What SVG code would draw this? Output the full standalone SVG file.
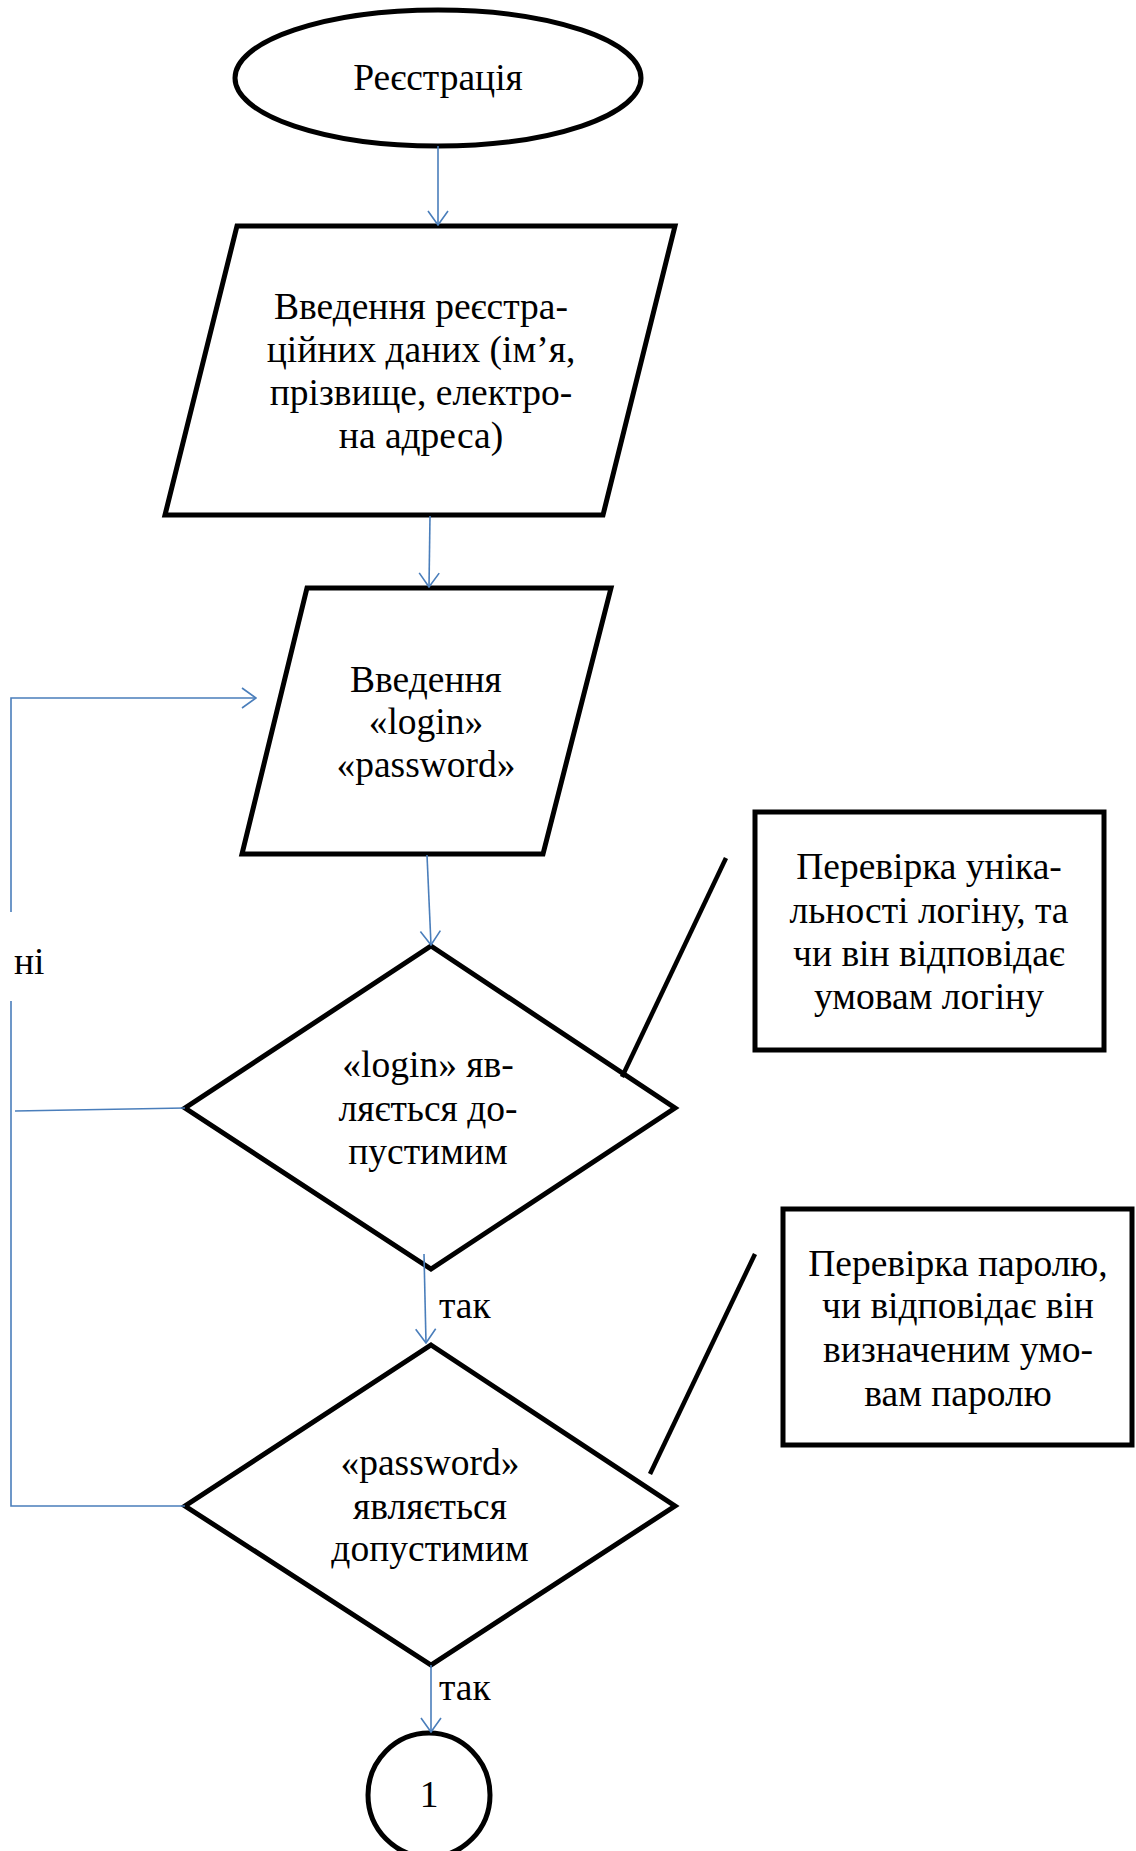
<svg xmlns="http://www.w3.org/2000/svg" width="1136" height="1851" viewBox="0 0 1136 1851">
<style>
.shape{fill:#fff;stroke:#000;stroke-width:5;stroke-linejoin:miter}
.conn{fill:none;stroke:#4A7EBB;stroke-width:1.6}
.call{fill:none;stroke:#000;stroke-width:4.5}
text{font-family:"Liberation Serif","Times New Roman",serif;font-size:37.5px;fill:#000}
.c{text-anchor:middle}
</style>
<defs>
<marker id="arr" viewBox="0 0 16 22" refX="15" refY="11" markerWidth="16" markerHeight="22" orient="auto" markerUnits="userSpaceOnUse">
<path d="M1,1 L15,11 L1,21" fill="none" stroke="#4A7EBB" stroke-width="1.6"/>
</marker>
</defs>
<rect width="1136" height="1851" fill="#fff"/>

<g id="start">
<ellipse class="shape" cx="438" cy="78" rx="203" ry="68"/>
<text class="c" x="438" y="90">Реєстрація</text>
</g>

<g id="input-reg">
<polygon class="shape" points="237,226 675,226 603,515 165,515"/>
<text class="c" x="421" y="319">Введення реєстра-</text>
<text class="c" x="421" y="362">ційних даних (ім’я,</text>
<text class="c" x="421" y="405">прізвище, електро-</text>
<text class="c" x="421" y="448">на адреса)</text>
</g>

<g id="input-login">
<polygon class="shape" points="307,588 611,588 543,854 242,854"/>
<text class="c" x="426" y="692">Введення</text>
<text class="c" x="426" y="734">«login»</text>
<text class="c" x="426" y="777">«password»</text>
</g>

<g id="check-login">
<polygon class="shape" points="431,946 675,1108 431,1269 185,1108"/>
<text class="c" x="428" y="1077">«login» яв-</text>
<text class="c" x="428" y="1121">ляється до-</text>
<text class="c" x="428" y="1164">пустимим</text>
</g>

<g id="note-login">
<line class="call" x1="726" y1="858" x2="622" y2="1077"/>
<rect class="shape" x="755" y="812" width="349" height="238"/>
<text class="c" x="929" y="879">Перевірка уніка-</text>
<text class="c" x="929" y="923">льності логіну, та</text>
<text class="c" x="929" y="966">чи він відповідає</text>
<text class="c" x="929" y="1009">умовам логіну</text>
</g>

<g id="check-password">
<polygon class="shape" points="431,1345 675,1506 431,1665 185,1506"/>
<text class="c" x="430" y="1475">«password»</text>
<text class="c" x="430" y="1519">являється</text>
<text class="c" x="430" y="1561">допустимим</text>
</g>

<g id="note-password">
<line class="call" x1="755" y1="1254" x2="650" y2="1474"/>
<rect class="shape" x="783" y="1209" width="349" height="236"/>
<text class="c" x="958" y="1276">Перевірка паролю,</text>
<text class="c" x="958" y="1318">чи відповідає він</text>
<text class="c" x="958" y="1362">визначеним умо-</text>
<text class="c" x="958" y="1406">вам паролю</text>
</g>

<g id="connector-1">
<ellipse class="shape" cx="429" cy="1795" rx="61" ry="62"/>
<text class="c" x="429" y="1807">1</text>
</g>

<g id="connectors">
<line class="conn" x1="438" y1="146" x2="438" y2="225" marker-end="url(#arr)"/>
<line class="conn" x1="430" y1="516" x2="429" y2="587" marker-end="url(#arr)"/>
<line class="conn" x1="427" y1="855" x2="431" y2="945" marker-end="url(#arr)"/>
<line class="conn" x1="424" y1="1254" x2="426" y2="1343" marker-end="url(#arr)"/>
<line class="conn" x1="431" y1="1665" x2="431" y2="1732" marker-end="url(#arr)"/>
<polyline class="conn" points="185,1506 11,1506 11,1001"/>
<polyline class="conn" points="11,912 11,698 256,698" marker-end="url(#arr)"/>
<line class="conn" x1="185" y1="1108" x2="15" y2="1111"/>
<text x="14" y="974">ні</text>
<text x="439" y="1318">так</text>
<text x="439" y="1700">так</text>
</g>
</svg>
